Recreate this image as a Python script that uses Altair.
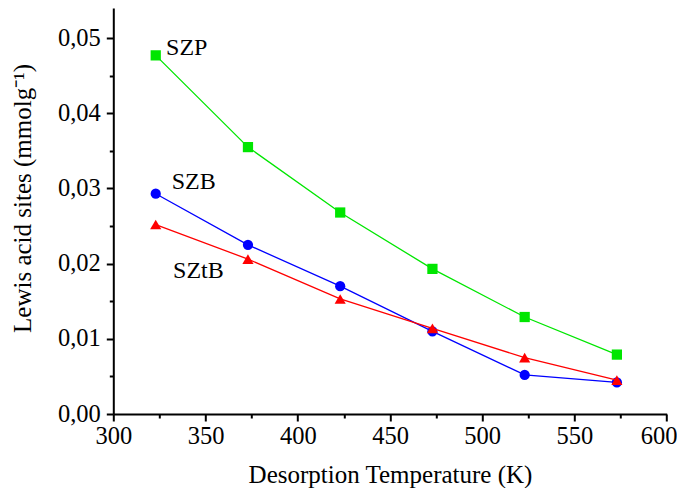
import altair as alt
import pandas as pd

# Data
temps = [323, 373, 423, 473, 523, 573]
szp = [0.0477, 0.0355, 0.0268, 0.0193, 0.0129, 0.0079]
szb = [0.0293, 0.0225, 0.0170, 0.0110, 0.0052, 0.0042]
sztb = [0.0252, 0.0206, 0.0153, 0.0114, 0.0075, 0.0045]

series_names = ["SZP", "SZB", "SZtB"]
series_values = [szp, szb, sztb]
series_colors = ["#00e600", "#0000ff", "#ff0000"]
series_shapes = ["square", "circle", "triangle-up"]
series_sizes = [105, 105, 125]

label_names = ["SZP", "SZB", "SZtB"]
label_x = [328.6, 331.7, 332.4]
label_y = [0.0478, 0.0299, 0.0181]

x_major = [300, 350, 400, 450, 500, 550, 600]
x_minor = [325, 375, 425, 475, 525, 575]
y_major = [0.00, 0.01, 0.02, 0.03, 0.04, 0.05]
y_minor = [0.005, 0.015, 0.025, 0.035, 0.045]

FONT = "Liberation Serif"
xscale = alt.Scale(domain=[300, 600], nice=False, zero=False)
yscale = alt.Scale(domain=[0, 0.054], nice=False, zero=False)

layers = []

# major axes layer (invisible points)
axis_df = pd.DataFrame({"T": temps, "v": szp})
major = alt.Chart(axis_df).mark_point(opacity=0).encode(
    x=alt.X("T:Q", scale=xscale, axis=alt.Axis(
        values=x_major, orient="bottom", title="Desorption Temperature (K)",
        grid=False, domainColor="black", domainWidth=2, tickColor="black",
        tickWidth=2, tickSize=7, labelFont=FONT, labelFontSize=24.5,
        labelColor="black", labelPadding=3, titleFont=FONT, titleFontSize=25,
        titleFontWeight="normal", titleColor="black", titleBaseline="alphabetic",
        titleY=68, labelFlush=False,
        labelOffset={"condition": {"test": "datum.value == 600", "value": -8},
                     "value": 0})),
    y=alt.Y("v:Q", scale=yscale, axis=alt.Axis(
        values=y_major, orient="left", title="Lewis acid sites (mmolg\u207b\u00b9)",
        labelExpr="replace(format(datum.value, '.2f'), '.', ',')",
        grid=False, domainColor="black", domainWidth=2, tickColor="black",
        tickWidth=2, tickSize=7, labelFont=FONT, labelFontSize=24.5,
        labelColor="black", labelPadding=6, titleFont=FONT, titleFontSize=25,
        titleFontWeight="normal", titleColor="black", titleBaseline="alphabetic",
        titleX=-83, titleY=190, titleAngle=270, labelFlush=False)),
)
layers.append(major)

minor = alt.Chart(axis_df).mark_point(opacity=0).encode(
    x=alt.X("T:Q", scale=xscale, axis=alt.Axis(
        values=x_minor, orient="bottom", title=None, labels=False, domain=False,
        grid=False, tickColor="black", tickWidth=2, tickSize=4)),
    y=alt.Y("v:Q", scale=yscale, axis=alt.Axis(
        values=y_minor, orient="left", title=None, labels=False, domain=False,
        grid=False, tickColor="black", tickWidth=2, tickSize=4)),
)
layers.append(minor)

for name, vals, col, shp, sz in zip(series_names, series_values, series_colors,
                                   series_shapes, series_sizes):
    df = pd.DataFrame({"T": temps, "v": vals, "series": name})
    base = alt.Chart(df).encode(
        x=alt.X("T:Q", scale=xscale, axis=None),
        y=alt.Y("v:Q", scale=yscale, axis=None),
    )
    layers.append(base.mark_line(color=col, strokeWidth=1.3))
    layers.append(base.mark_point(shape=shp, filled=True, color=col, size=sz,
                                  opacity=1))

lab_df = pd.DataFrame({"T": label_x, "v": label_y, "name": label_names})
text = alt.Chart(lab_df).mark_text(
    align="left", baseline="alphabetic", font=FONT, fontSize=24, color="black"
).encode(
    x=alt.X("T:Q", scale=xscale, axis=None),
    y=alt.Y("v:Q", scale=yscale, axis=None),
    text="name:N",
)
layers.append(text)

chart = alt.layer(*layers).resolve_axis(
    x="independent", y="independent"
).properties(
    width=553.4, height=406,
    autosize=alt.AutoSizeParams(type="none"),
    padding={"left": 105.3, "top": 0, "right": 10.3, "bottom": 74},
    background="white",
).configure_view(stroke=None)

chart.save("out.html", embed_options={"renderer": "svg", "actions": False})
